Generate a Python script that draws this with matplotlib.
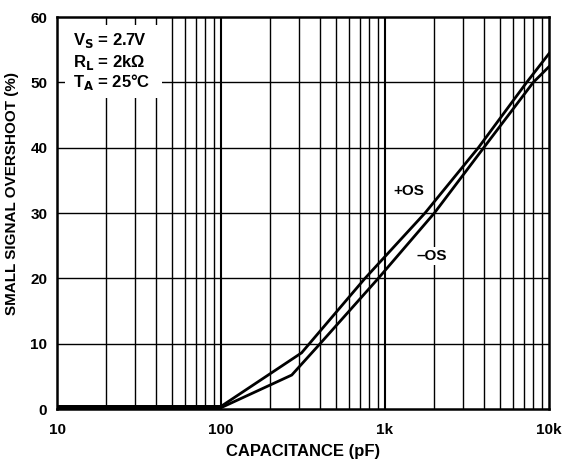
import matplotlib
matplotlib.use("Agg")
import matplotlib.pyplot as plt
from matplotlib.ticker import FixedLocator, NullFormatter, NullLocator
from matplotlib.patches import Rectangle

plt.rcParams['font.family'] = ['Liberation Sans', 'DejaVu Sans']
plt.rcParams['font.weight'] = 'bold'
plt.rcParams['mathtext.default'] = 'bf'

# Data
cap_pos = [10, 100, 310, 755, 1754, 3710, 7310, 10000]
os_pos = [0.4, 0.4, 8.6, 20, 30, 40, 50, 54.4]
cap_neg = [10, 100, 270, 402, 910, 2000, 4000, 8020, 10000]
os_neg = [0.2, 0.2, 5.2, 10, 20, 30, 40, 50, 52.4]

x_ticks = [10, 100, 1000, 10000]
x_labels = ['10', '100', '1k', '10k']
y_ticks = [0, 10, 20, 30, 40, 50, 60]
cond_lines = ['V$_\\mathbf{S}$ = 2.7V', 'R$_\\mathbf{L}$ = 2k\u03a9', 'T$_\\mathbf{A}$ = 25\u00b0C']

fig = plt.figure(figsize=(5.65, 4.62), dpi=100)
ax = fig.add_axes([0.1009, 0.1147, 0.8708, 0.8485])

ax.set_xscale('log')
ax.set_xlim(10, 10000)
ax.set_ylim(0, 60)

# grid
minor = [m * d for d in [10, 100, 1000] for m in range(2, 10)]
for xv in minor:
    ax.axvline(xv, color='black', lw=1.0, zorder=1)
for xv in [100, 1000]:
    ax.axvline(xv, color='black', lw=1.5, zorder=1)
for yv in y_ticks[1:-1]:
    ax.axhline(yv, color='black', lw=1.0, zorder=1)

ax.plot(cap_pos, os_pos, color='black', lw=2.0, zorder=3, solid_joinstyle='miter')
ax.plot(cap_neg, os_neg, color='black', lw=2.0, zorder=3, solid_joinstyle='miter')

ax.xaxis.set_major_locator(FixedLocator(x_ticks))
ax.set_xticklabels(x_labels)
ax.xaxis.set_minor_locator(NullLocator())
ax.xaxis.set_minor_formatter(NullFormatter())
ax.set_yticks(y_ticks)
ax.tick_params(axis='both', which='both', length=0, labelsize=11)
ax.tick_params(axis='x', pad=10)
ax.tick_params(axis='y', pad=7)

for s in ax.spines.values():
    s.set_linewidth(1.8)
    s.set_zorder(4)

ax.set_xlabel('CAPACITANCE (pF)', fontsize=12, fontweight='bold')
ax.xaxis.set_label_coords(0.5, -0.088)
ax.set_ylabel('SMALL SIGNAL OVERSHOOT (%)', fontsize=11, fontweight='bold')
ax.yaxis.set_label_coords(-0.077, 0.551)

# condition box (white background)
ax.add_patch(Rectangle((0.016, 0.793), 0.197, 0.187, transform=ax.transAxes,
                       facecolor='white', edgecolor='none', zorder=2))
for txt, yb in zip(cond_lines, [0.929, 0.872, 0.821]):
    ax.text(0.0325, yb, txt, transform=ax.transAxes, ha='left', va='baseline',
            fontsize=12, fontweight='bold', zorder=5)

ax.text(1400, 33.4, '+OS', ha='center', va='center', fontsize=11, fontweight='bold', zorder=5)
ax.text(1936, 23.4, '\u2013OS', ha='center', va='center', fontsize=11, fontweight='bold', zorder=5,
        bbox=dict(facecolor='white', edgecolor='none', pad=1.5))

fig.savefig('out.png', dpi=100)
